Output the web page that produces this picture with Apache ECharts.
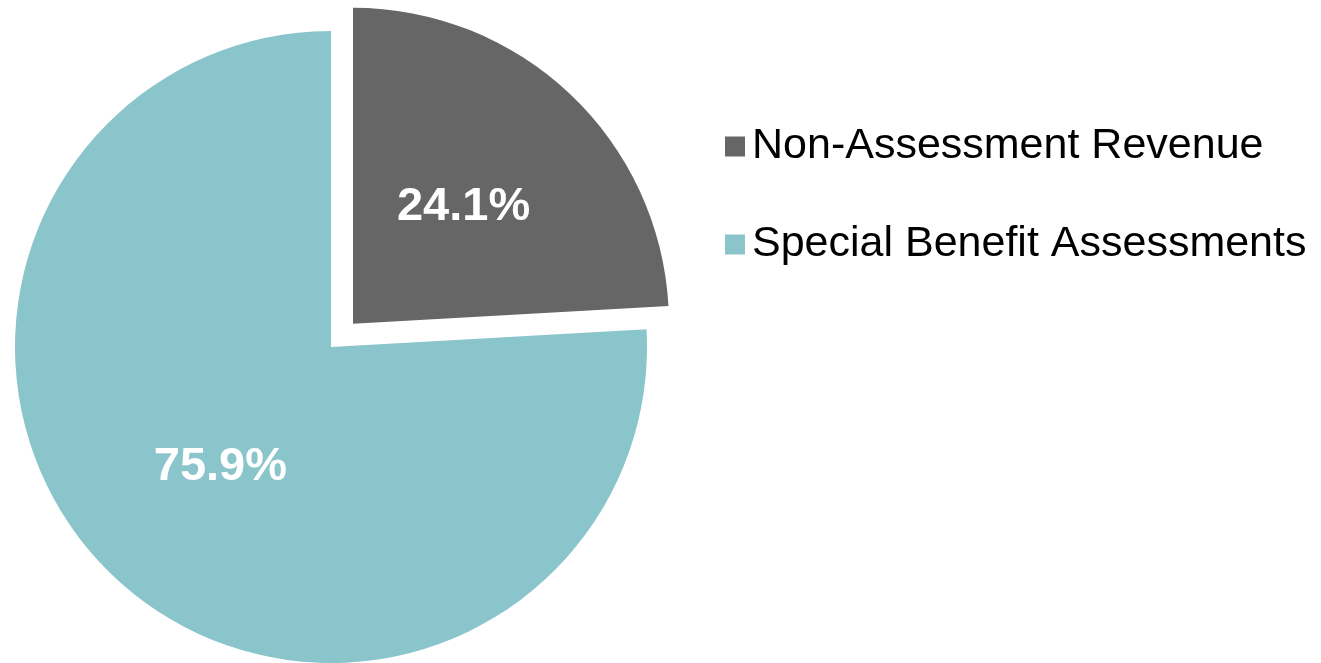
<!DOCTYPE html>
<html>
<head>
<meta charset="utf-8">
<script src="https://cdn.jsdelivr.net/npm/echarts@6/dist/echarts.min.js"></script>
<style>html,body{margin:0;padding:0;background:#fff}#c{width:1321px;height:663px}</style>
</head>
<body>
<div id="c"></div>
<script>
const categories = ["Non-Assessment Revenue", "Special Benefit Assessments"];
const values = [24.1, 75.9];
const colors = ["#666666", "#8AC5CC"];

const chart = echarts.init(document.getElementById('c'), null, {renderer: 'canvas'});
chart.setOption({
  animation: false,
  backgroundColor: '#ffffff',
  legend: {
    orient: 'vertical',
    left: 720,
    top: 120,
    itemWidth: 20,
    itemHeight: 20,
    itemGap: 55,
    icon: 'rect',
    selectedMode: false,
    textStyle: {fontFamily: 'Liberation Sans, Arial, sans-serif', fontSize: 43, color: '#000000', padding: [0,0,0,2]},
    data: categories
  },
  series: [{
    type: 'pie',
    center: [331, 347],
    radius: [0, 316],
    startAngle: 90,
    clockwise: true,
    selectedMode: 'single',
    selectedOffset: 32,
    avoidLabelOverlap: false,
    emphasis: {disabled: true},
    label: {
      show: true,
      position: 'inside',
      color: '#ffffff',
      fontWeight: 'bold',
      fontSize: 47,
      fontFamily: 'Liberation Sans, Arial, sans-serif',
      formatter: p => p.value.toFixed(1) + '%'
    },
    labelLine: {show: false},
    data: categories.map((n, i) => ({
      name: n,
      value: values[i],
      selected: i === 0,
      itemStyle: {color: colors[i]},
      label: {offset: i === 0 ? [-2, 6] : [0, 3]}
    }))
  }]
});
</script>
</body>
</html>
